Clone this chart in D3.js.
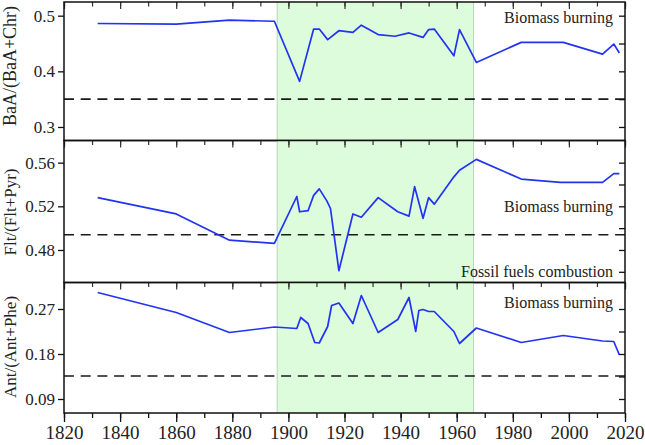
<!DOCTYPE html>
<html><head><meta charset="utf-8">
<script src="https://cdn.jsdelivr.net/npm/d3@7/dist/d3.min.js"></script>
<style>body{margin:0;background:#fff;} svg{display:block;}</style>
</head><body>
<svg id="c" width="645" height="445"></svg>
<script>
// ---- data ----
const years1 = [1832,1860,1879,1895,1904,1909,1911,1914,1918,1923,1926,1932,1938,1943,1948,1950,1952,1959,1961,1967,1983,1998,2012,2016,2018];
const ratio1 = [0.486,0.485,0.492,0.490,0.382,0.476,0.476,0.457,0.473,0.470,0.483,0.466,0.463,0.469,0.461,0.475,0.476,0.428,0.475,0.416,0.452,0.452,0.431,0.449,0.433];

const years2 = [1832,1860,1879,1895,1903,1904,1907,1909,1911,1913.7,1915,1918,1923,1926,1932,1939,1943,1945,1948,1950,1952,1959,1961,1967,1983,1997,2012,2016,2018];
const ratio2 = [0.528,0.513,0.489,0.486,0.529,0.515,0.516,0.530,0.536,0.525,0.518,0.461,0.513,0.510,0.528,0.515,0.511,0.538,0.509,0.528,0.522,0.547,0.553,0.563,0.545,0.542,0.542,0.550,0.550];

const years3 = [1832,1860,1879,1895,1903,1904.4,1907,1909.4,1911,1914,1915.4,1918,1923,1926,1932,1939,1943,1945.4,1946.5,1948,1950,1952,1959,1961,1967,1983,1998,2012,2016,2018];
const ratio3 = [0.303,0.263,0.223,0.234,0.231,0.253,0.241,0.203,0.202,0.235,0.277,0.282,0.241,0.297,0.223,0.249,0.293,0.225,0.267,0.269,0.265,0.265,0.225,0.201,0.232,0.203,0.217,0.206,0.205,0.178];

const xTicks = [1820,1840,1860,1880,1900,1920,1940,1960,1980,2000,2020];
const yTicks1 = [0.3,0.4,0.5];
const yTicks2 = [0.48,0.52,0.56];
const yTicks3 = [0.09,0.18,0.27];
const yMinor1 = [0.3,0.35,0.4,0.45,0.5];
const yMinor2 = [0.46,0.48,0.50,0.52,0.54,0.56];
const yMinor3 = [0.09,0.135,0.18,0.225,0.27];
const thresholds = [0.35, 0.494, 0.136];
const shadeYears = [1896, 1966];
const titles = ["BaA/(BaA+Chr)", "Flt/(Flt+Pyr)", "Ant/(Ant+Phe)"];
const notes1 = ["Biomass burning"];
const notes2 = ["Biomass burning", "Fossil fuels combustion"];
const notes3 = ["Biomass burning"];

// ---- layout ----
const svg = d3.select("#c");
const L = 64, R = 625;
const x = d3.scaleLinear().domain([1820, 2020]).range([L, R]);
const FONT = "'Liberation Serif','Times New Roman',serif";

const panels = [
  {years: years1, vals: ratio1, dom: [0.2757, 0.5246], top: 2, bot: 140.5, ticks: yTicks1, minor: yMinor1, fmt: d3.format(".1f"), thr: thresholds[0], title: titles[0], tcy: 66, tfs: 18,
   notes: [{t: notes1[0], v: 0.486}]},
  {years: years2, vals: ratio2, dom: [0.4502, 0.5803], top: 140.5, bot: 282.5, ticks: yTicks2, minor: yMinor2, fmt: d3.format(".2f"), thr: thresholds[1], title: titles[1], tcy: 212, tfs: 17,
   notes: [{t: notes2[0], v: 0.5145}, {t: notes2[1], v: 0.4555}]},
  {years: years3, vals: ratio3, dom: [0.062, 0.323], top: 282.5, bot: 413, ticks: yTicks3, minor: yMinor3, fmt: d3.format(".2f"), thr: thresholds[2], title: titles[2], tcy: 347, tfs: 17,
   notes: [{t: notes3[0], v: 0.273}]}
];

panels.forEach((p, i) => {
  const y = d3.scaleLinear().domain(p.dom).range([p.bot, p.top]);
  const g = svg.append("g");
  // shading
  g.append("rect").attr("x", x(shadeYears[0])).attr("y", p.top)
    .attr("width", x(shadeYears[1]) - x(shadeYears[0])).attr("height", p.bot - p.top)
    .attr("fill", "#dcfcdc");
  shadeYears.forEach(yr => g.append("line").attr("x1", x(yr)).attr("x2", x(yr))
    .attr("y1", p.top).attr("y2", p.bot).attr("stroke", "#b9d3b9").attr("stroke-width", 1));
  // threshold
  g.append("line").attr("x1", L).attr("x2", R).attr("y1", y(p.thr)).attr("y2", y(p.thr))
    .attr("stroke", "#1a1a1a").attr("stroke-width", 1.6).attr("stroke-dasharray", "10,6.7");
  // line
  const line = d3.line().x((d, j) => x(p.years[j])).y(d => y(d));
  g.append("path").datum(p.vals).attr("d", line).attr("fill", "none")
    .attr("stroke", "#2233f2").attr("stroke-width", 1.7).attr("stroke-linejoin", "round");
  // left axis
  const la = g.append("g").attr("transform", `translate(${L},0)`)
    .call(d3.axisLeft(y).tickValues(p.ticks).tickFormat(p.fmt).tickSize(6).tickPadding(3));
  la.select(".domain").remove();
  la.selectAll("line").attr("stroke", "#111").attr("stroke-width", 1.3);
  la.selectAll("text").attr("font-family", FONT).attr("font-size", 17).attr("fill", "#222");
  // right inner ticks
  const ra = g.append("g").attr("transform", `translate(${R},0)`)
    .call(d3.axisLeft(y).tickValues(p.minor).tickFormat("").tickSize(6));
  ra.select(".domain").remove();
  ra.selectAll("line").attr("stroke", "#111").attr("stroke-width", 1.3);
  // top inner ticks
  const tMinor = g.append("g").attr("transform", `translate(0,${p.top})`)
    .call(d3.axisBottom(x).ticks(20).tickFormat("").tickSize(4.5));
  tMinor.select(".domain").remove();
  tMinor.selectAll("line").attr("stroke", "#333").attr("stroke-width", 1.2);
  const tMajor = g.append("g").attr("transform", `translate(0,${p.top})`)
    .call(d3.axisBottom(x).tickValues(xTicks).tickFormat("").tickSize(7));
  tMajor.select(".domain").remove();
  tMajor.selectAll("line").attr("stroke", "#333").attr("stroke-width", 1.2);
  // frame
  g.append("rect").attr("x", L).attr("y", p.top).attr("width", R - L).attr("height", p.bot - p.top)
    .attr("fill", "none").attr("stroke", "#111").attr("stroke-width", 1.5);
  // title
  g.append("text").attr("transform", `translate(16,${p.tcy}) rotate(-90)`)
    .attr("text-anchor", "middle").attr("font-family", FONT).attr("font-size", p.tfs).attr("fill", "#222")
    .text(p.title);
  // notes
  p.notes.forEach(n => g.append("text").attr("x", 613).attr("y", y(n.v))
    .attr("text-anchor", "end").attr("font-family", FONT).attr("font-size", 16).attr("fill", "#222").text(n.t));
});

// bottom axis
const bot = panels[2].bot;
const bMinor = svg.append("g").attr("transform", `translate(0,${bot})`)
  .call(d3.axisBottom(x).ticks(20).tickFormat("").tickSize(5));
bMinor.select(".domain").remove();
bMinor.selectAll("line").attr("stroke", "#111").attr("stroke-width", 1.3);
const bMajor = svg.append("g").attr("transform", `translate(0,${bot})`)
  .call(d3.axisBottom(x).tickValues(xTicks).tickFormat(d3.format("d")).tickSize(9).tickPadding(4));
bMajor.select(".domain").remove();
bMajor.selectAll("line").attr("stroke", "#111").attr("stroke-width", 1.3);
bMajor.selectAll("text").attr("font-family", FONT).attr("font-size", 19).attr("fill", "#222");
</script>
</body></html>
